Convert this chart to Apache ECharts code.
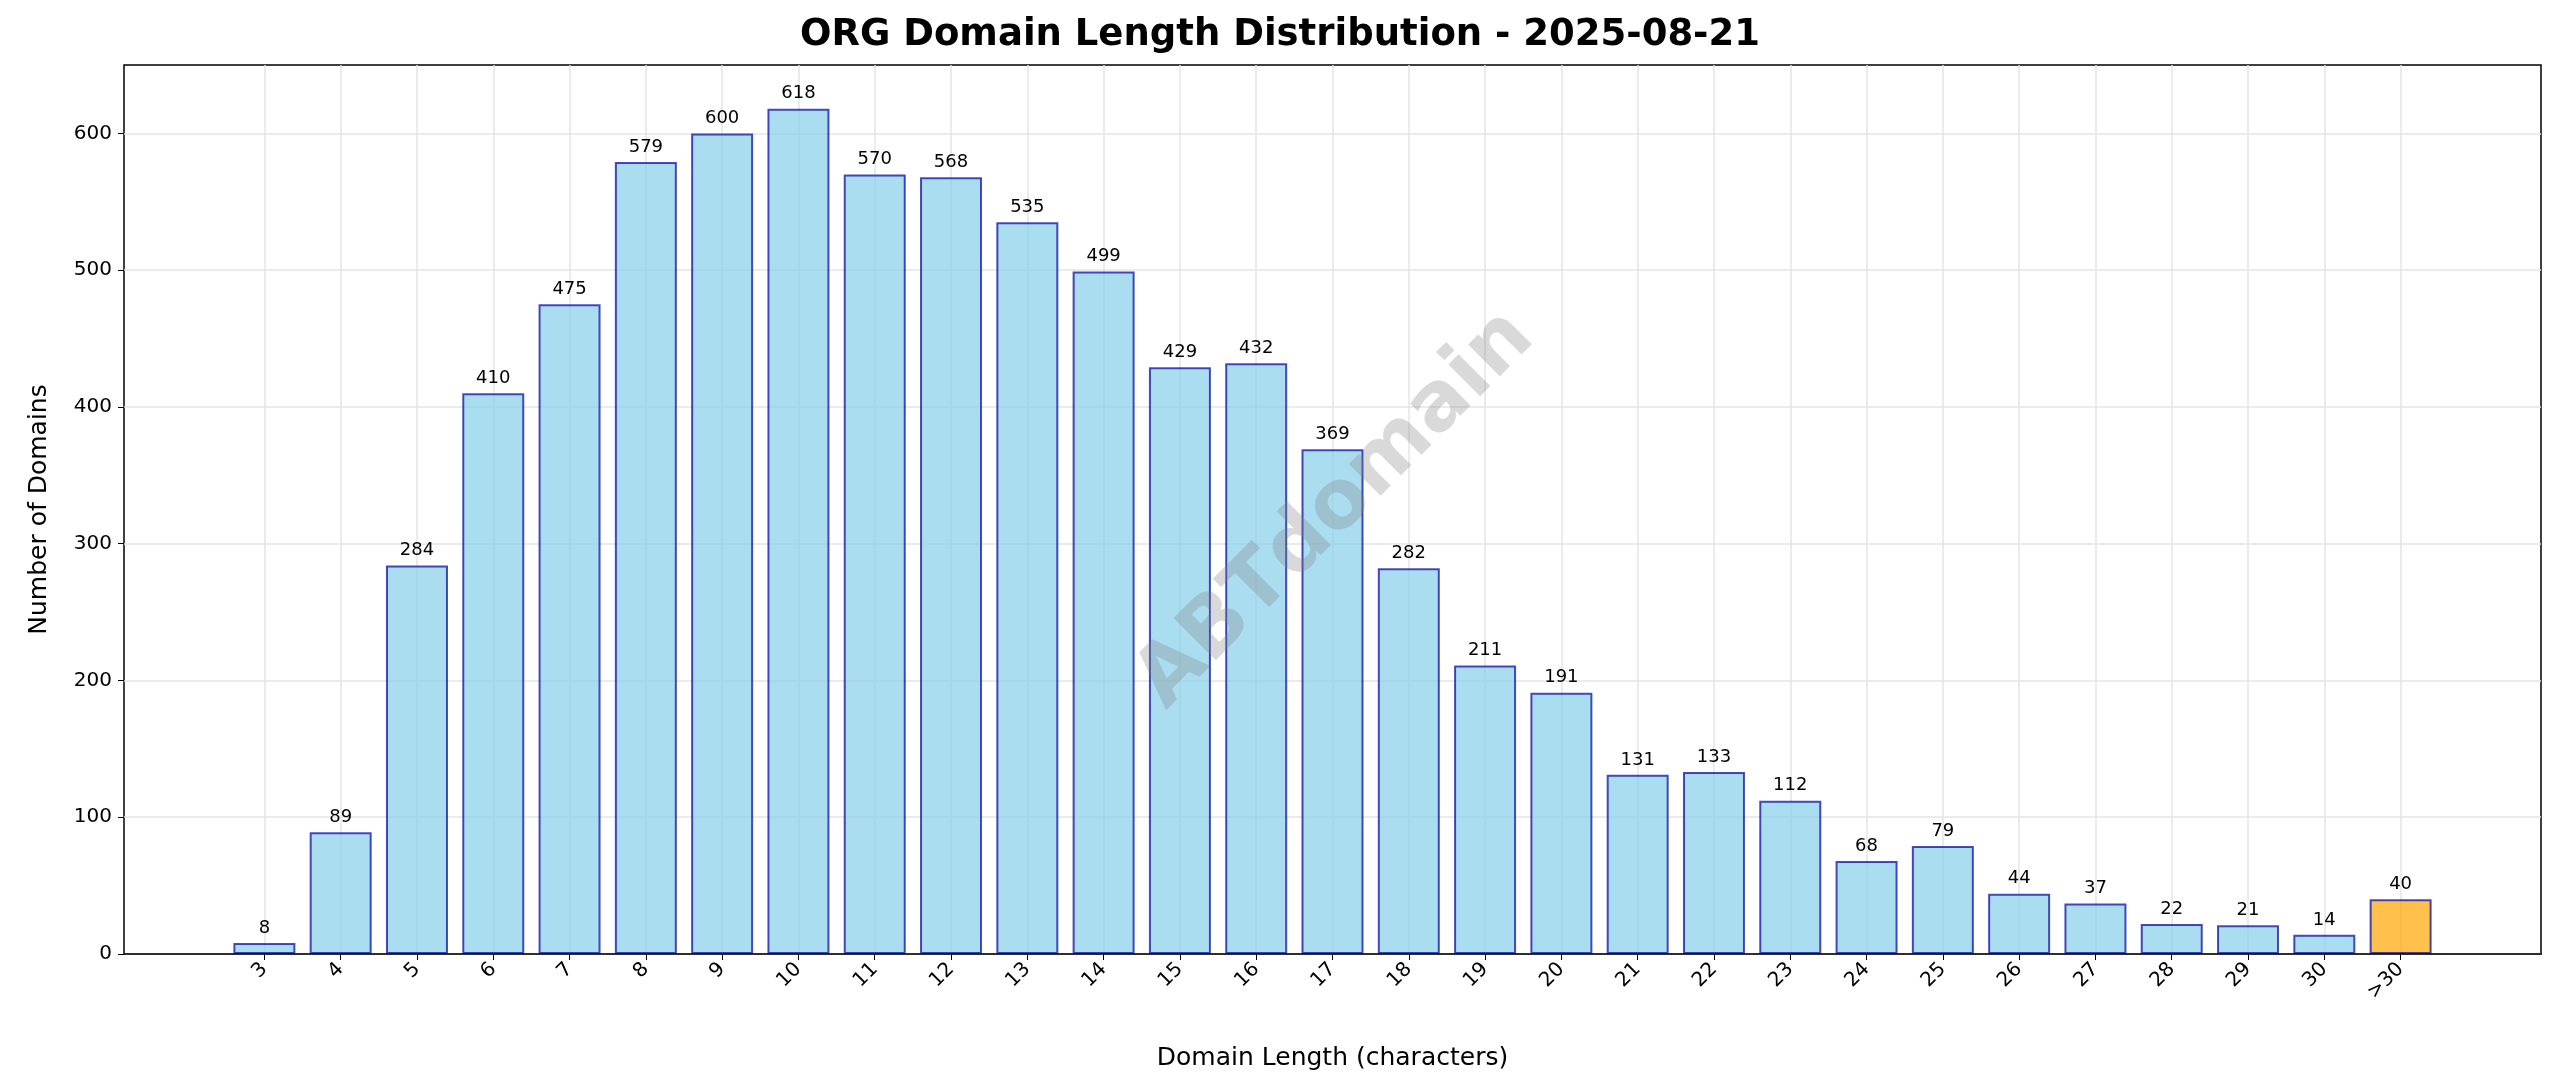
<!DOCTYPE html>
<html><head><meta charset="utf-8">
<script src="https://cdn.jsdelivr.net/npm/echarts@6/dist/echarts.min.js"></script>
<style>html,body{margin:0;padding:0;background:#fff}#c{width:2560px;height:1087px}</style>
</head><body><div id="c"></div>
<script>
const categories = ['3','4','5','6','7','8','9','10','11','12','13','14','15','16','17','18','19','20','21','22','23','24','25','26','27','28','29','30','>30'];
const counts = [8,89,284,410,475,579,600,618,570,568,535,499,429,432,369,282,211,191,131,133,112,68,79,44,37,22,21,14,40];
const yTicks = [0,100,200,300,400,500,600];

const positions = categories.map((c,i)=>i+3);
const chart = echarts.init(document.getElementById('c'));
const font = 'DejaVu Sans';
chart.setOption({
  animation:false,
  title:{text:'ORG Domain Length Distribution - 2025-08-21',left:'center',top:12,
    textStyle:{fontFamily:font,fontSize:37,fontWeight:'bold',color:'#000'}},
  grid:{left:124,right:19,top:65,bottom:133,show:true,borderColor:'#000',borderWidth:1.5},
  xAxis:{type:'value',min:1.16,max:32.84,
    name:'Domain Length (characters)',nameLocation:'middle',nameGap:92,
    nameTextStyle:{fontFamily:font,fontSize:25,color:'#000'},
    axisLine:{show:true,lineStyle:{color:'#000',width:1.5}},
    axisTick:{show:true,customValues:positions,length:6,lineStyle:{color:'#000'}},
    axisLabel:{customValues:positions,rotate:45,fontFamily:font,fontSize:20,color:'#000',margin:12,
      formatter:v=>categories[Math.round(v)-3]},
    splitLine:{show:true,lineStyle:{color:'#e4e4e4',width:1.5}}},
  yAxis:{type:'value',min:0,max:650,interval:100,
    name:'Number of Domains',nameLocation:'middle',nameGap:72,
    nameTextStyle:{fontFamily:font,fontSize:25,color:'#000'},
    axisLine:{show:false},
    axisTick:{show:true,customValues:yTicks,length:6,lineStyle:{color:'#000'}},
    axisLabel:{customValues:yTicks,fontFamily:font,fontSize:20,color:'#000',margin:12},
    splitLine:{show:true,lineStyle:{color:'#e4e4e4',width:1.5}}},
  series:[{type:'bar',barWidth:62,
    data:counts.map((v,i)=>({value:[positions[i],v],
      itemStyle:{color:i===counts.length-1?'rgba(255,165,0,0.7)':'rgba(135,206,235,0.7)'}})),
    itemStyle:{borderColor:'rgba(0,0,160,0.7)',borderWidth:2},
    label:{show:true,position:'top',distance:6,fontFamily:font,fontSize:18,color:'#000',
      formatter:p=>p.value[1]}}],
  graphic:[{type:'text',x:1336,y:510,rotation:Math.PI/4,
    style:{text:'ABTdomain',fontFamily:font,fontSize:82,fontWeight:'bold',fill:'rgba(128,128,128,0.3)',
      align:'center',verticalAlign:'middle'},z:100}]
});
</script></body></html>
